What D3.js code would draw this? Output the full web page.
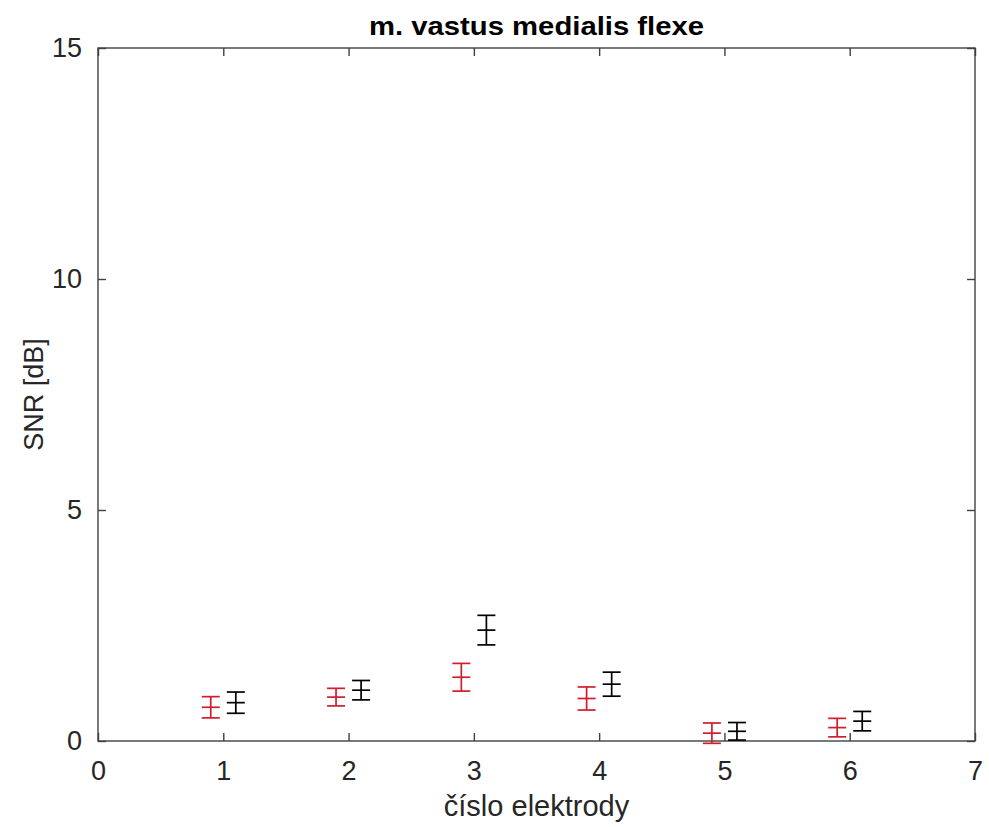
<!DOCTYPE html>
<html>
<head>
<meta charset="utf-8">
<script src="https://cdn.jsdelivr.net/npm/d3@7"></script>
<style>
  body { margin: 0; background: #fff; }
  text { font-family: Arial, "Liberation Sans", Helvetica, sans-serif; }
</style>
</head>
<body>
<svg id="chart"></svg>
<script>
const width = 989;
const height = 827;
const margin = { top: 48, right: 14, bottom: 86, left: 98 };

const electrodes = [1, 2, 3, 4, 5, 6];
const redMeans = [0.73, 0.95, 1.38, 0.92, 0.17, 0.29];
const redErrors = [0.23, 0.19, 0.30, 0.25, 0.22, 0.20];
const blackMeans = [0.83, 1.10, 2.40, 1.23, 0.21, 0.43];
const blackErrors = [0.23, 0.21, 0.32, 0.26, 0.19, 0.21];
const xTicks = [0, 1, 2, 3, 4, 5, 6, 7];
const yTicks = [0, 5, 10, 15];

const axisColor = "#404040";

const svg = d3.select("#chart").attr("width", width).attr("height", height);
svg.append("rect").attr("width", width).attr("height", height).attr("fill", "#fff");

const x = d3.scaleLinear().domain([0, 7]).range([margin.left, width - margin.right]);
const y = d3.scaleLinear().domain([0, 15]).range([height - margin.bottom, margin.top]);

// box
svg.append("rect")
    .attr("x", x(0)).attr("y", y(15))
    .attr("width", x(7) - x(0)).attr("height", y(0) - y(15))
    .attr("fill", "none").attr("stroke", axisColor).attr("stroke-width", 1.4);

// axes, ticks pointing in
const xAxis = svg.append("g")
    .attr("transform", `translate(0,${y(0)})`)
    .call(d3.axisBottom(x).tickValues(xTicks).tickFormat(d3.format("d")).tickSizeInner(-8).tickSizeOuter(0).tickPadding(20));
const xTop = svg.append("g")
    .attr("transform", `translate(0,${y(15)})`)
    .call(d3.axisTop(x).tickValues(xTicks).tickFormat("").tickSizeInner(-8).tickSizeOuter(0));
const yAxis = svg.append("g")
    .attr("transform", `translate(${x(0)},0)`)
    .call(d3.axisLeft(y).tickValues(yTicks).tickSizeInner(-8).tickSizeOuter(0).tickPadding(16));
const yRight = svg.append("g")
    .attr("transform", `translate(${x(7)},0)`)
    .call(d3.axisRight(y).tickValues(yTicks).tickFormat("").tickSizeInner(-8).tickSizeOuter(0));

[xAxis, xTop, yAxis, yRight].forEach(g => {
    g.select(".domain").remove();
    g.selectAll(".tick line").attr("stroke", axisColor).attr("stroke-width", 1.4);
    g.selectAll(".tick text")
        .attr("fill", "#262626")
        .style("font-size", "27px");
});

// error bars
function drawSeries(means, errors, offset, color) {
    const data = electrodes.map((e, i) => ({ x: e + offset, m: means[i], e: errors[i] }));
    const capW = 9;
    const g = svg.append("g").attr("stroke", color).attr("stroke-width", 1.7).attr("fill", "none");
    const bars = g.selectAll("g").data(data).enter().append("g");
    bars.append("line")
        .attr("x1", d => x(d.x)).attr("x2", d => x(d.x))
        .attr("y1", d => y(d.m - d.e)).attr("y2", d => y(d.m + d.e));
    [-1, 0, 1].forEach(k => {
        bars.append("line")
            .attr("x1", d => x(d.x) - capW).attr("x2", d => x(d.x) + capW)
            .attr("y1", d => y(d.m + k * d.e)).attr("y2", d => y(d.m + k * d.e));
    });
}
drawSeries(redMeans, redErrors, -0.1, "#d01e2c");
drawSeries(blackMeans, blackErrors, 0.1, "#000000");

// labels
svg.append("text")
    .attr("x", (x(0) + x(7)) / 2).attr("y", 35)
    .attr("text-anchor", "middle")
    .attr("textLength", 335).attr("lengthAdjust", "spacingAndGlyphs")
    .style("font-size", "26px").style("font-weight", "bold")
    .attr("fill", "#000")
    .text("m. vastus medialis flexe");

svg.append("text")
    .attr("x", (x(0) + x(7)) / 2).attr("y", 816)
    .attr("text-anchor", "middle")
    .style("font-size", "29px")
    .attr("fill", "#262626")
    .text("číslo elektrody");

svg.append("text")
    .attr("transform", `translate(43,${(y(0) + y(15)) / 2}) rotate(-90)`)
    .attr("text-anchor", "middle")
    .style("font-size", "27px")
    .attr("fill", "#262626")
    .text("SNR [dB]");
</script>
</body>
</html>
